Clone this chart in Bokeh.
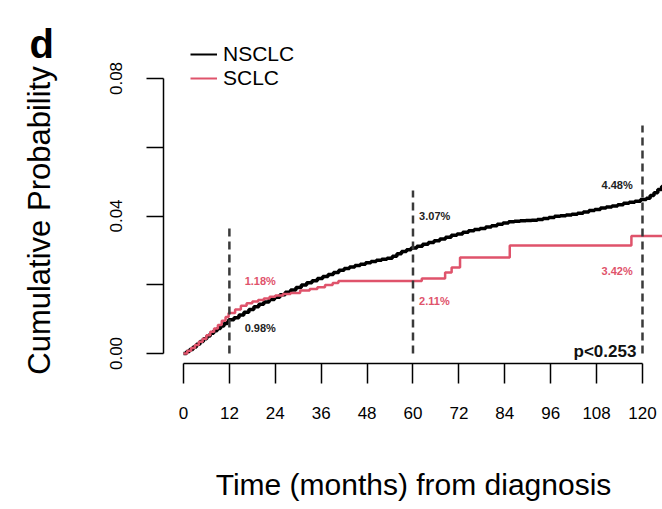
import numpy as np
from bokeh.plotting import figure
from bokeh.models import Range1d, FixedTicker, Legend, LegendItem, Label
from bokeh.core.properties import value
from bokeh.embed import file_html
from bokeh.resources import INLINE

FONT = "Liberation Sans"
NSCLC_COLOR = "#000000"
SCLC_COLOR = "#DF536B"
W, H = 662, 509

# Cumulative incidence, NSCLC (months from diagnosis, probability)
nsclc_months = [0, 0.8, 1.6, 2.5, 3.4, 4.3, 5.2, 6.1, 7.0, 7.9, 8.8, 9.7, 10.6, 11.5, 11.8,
                13.2, 14.5, 15.8, 17.1, 18.4, 19.7, 21.0, 22.4, 23.8, 25.2, 26.6, 28.0,
                29.4, 30.8, 32.2, 33.6, 35.0, 36.4, 37.8, 39.2, 40.6, 42.0, 43.4, 44.8,
                46.2, 47.6, 49.0, 50.4, 51.8, 53.2, 54.6, 55.8, 57.0, 58.3, 59.5, 61.0,
                62.5, 64.0, 65.5, 67.0, 68.5, 70.0, 71.5, 73.0, 74.5, 76.0, 77.5, 79.0,
                80.5, 82.0, 83.5, 85.0, 86.5, 88.0, 89.5, 91.0, 92.5, 94.0, 95.5, 97.0,
                98.5, 100.0, 101.5, 103.0, 104.5, 106.0, 107.5, 109.0, 110.5, 112.0,
                113.5, 115.0, 116.5, 118.0, 119.5, 121.0, 122.0, 123.0, 124.0, 125.0, 126.0]
nsclc_cuminc = [0, 0.0006, 0.0012, 0.0019, 0.0027, 0.0035, 0.0043, 0.0051, 0.0059, 0.0066,
                0.0073, 0.0080, 0.0087, 0.0094, 0.0098,
                0.0104, 0.0112, 0.0120, 0.0128, 0.0136, 0.0143, 0.0150, 0.0157, 0.0164,
                0.0171, 0.0178, 0.0185, 0.0192, 0.0199, 0.0206, 0.0212, 0.0218, 0.0224,
                0.0230, 0.0236, 0.0242, 0.0247, 0.0252, 0.0256, 0.0260, 0.0264, 0.0268,
                0.0271, 0.0274, 0.0277, 0.0283, 0.0290, 0.0297, 0.0302, 0.0307, 0.0312,
                0.0318, 0.0323, 0.0328, 0.0333, 0.0338, 0.0344, 0.0348, 0.0353, 0.0357,
                0.0361, 0.0364, 0.0368, 0.0372, 0.0376, 0.0380, 0.0383, 0.0385, 0.0386,
                0.0387, 0.0388, 0.0390, 0.0393, 0.0396, 0.0399, 0.0401, 0.0403, 0.0405,
                0.0408, 0.0412, 0.0416, 0.0419, 0.0423, 0.0426, 0.0429, 0.0433, 0.0437,
                0.0440, 0.0443, 0.0448, 0.0452, 0.0460, 0.0468, 0.0477, 0.0486, 0.0494]

# Cumulative incidence, SCLC
sclc_months = [0, 1.0, 2.0, 3.0, 4.0, 5.0, 6.0, 7.0, 8.0, 9.0, 10.0, 11.0, 11.8, 13.5,
               15.0, 16.5, 18.0, 19.5, 21.0, 22.5, 24.0, 26.0, 28.0, 30.5, 33.0, 35.0,
               37.0, 39.0, 40.5, 62.3, 68.4, 70.1, 72.3, 85.3, 117.1, 126.0]
sclc_cuminc = [0, 0.0008, 0.0016, 0.0025, 0.0034, 0.0043, 0.0053, 0.0063, 0.0073, 0.0083,
               0.0095, 0.0106, 0.0118, 0.0128, 0.0139, 0.0146, 0.0151, 0.0156, 0.0160,
               0.0165, 0.0169, 0.0173, 0.0176, 0.0183, 0.0188, 0.0193, 0.0199, 0.0205,
               0.0211, 0.0218, 0.0236, 0.0250, 0.0279, 0.0314, 0.0342, 0.0342]

# Landmark times (1, 5 and 10 years) and the reported estimates
landmark_months = [12, 60, 120]
landmark_line_top = [0.0364, 0.0474, 0.0663]
nsclc_landmark = [0.0098, 0.0307, 0.0448]
sclc_landmark = [0.0118, 0.0211, 0.0342]
nsclc_label_x = [16.0, 61.6, 109.3]
nsclc_label_y = [0.0073, 0.0399, 0.0489]
sclc_label_x = [16.0, 61.6, 109.3]
sclc_label_y = [0.0212, 0.0154, 0.0241]
p_value_text = "p<0.253"

x_ticks = list(range(0, 121, 12))
y_ticks = [0, 0.02, 0.04, 0.06, 0.08]
y_tick_labels = {0: "0.00", 0.02: "", 0.04: "0.04", 0.06: "", 0.08: "0.08"}

# The frame fills the canvas; axes sit at fixed data positions (detached, base-R style)
p = figure(width=W, height=H,
           x_range=Range1d(-47.84, 125.23), y_range=Range1d(-0.04538, 0.10269),
           output_backend="svg", toolbar_location=None,
           min_border_left=0, min_border_right=0, min_border_top=0, min_border_bottom=0)
p.outline_line_color = None
p.grid.visible = False
p.background_fill_color = "white"

for ax in (p.xaxis[0], p.yaxis[0]):
    ax.axis_line_width = 1.5
    ax.axis_line_color = "black"
    ax.major_tick_line_width = 1.5
    ax.major_tick_line_color = "black"
    ax.major_tick_in = 0
    ax.minor_tick_in = 0
    ax.minor_tick_out = 0
    ax.major_label_text_font = FONT
    ax.major_label_text_font_size = "17px"
    ax.major_label_text_color = "black"

xa = p.xaxis[0]
xa.fixed_location = -0.0029
xa.bounds = (0, 120)
xa.ticker = FixedTicker(ticks=x_ticks)
xa.major_tick_out = 20
xa.major_label_standoff = 24

ya = p.yaxis[0]
ya.fixed_location = -5.23
ya.bounds = (0, 0.08)
ya.ticker = FixedTicker(ticks=y_ticks)
ya.major_label_overrides = y_tick_labels
ya.major_label_orientation = "vertical"
ya.major_tick_out = 17
ya.major_label_standoff = 24

# Curves
p.step(nsclc_months, nsclc_cuminc, mode="after", line_color=NSCLC_COLOR, line_width=3.5)
p.step(sclc_months, sclc_cuminc, mode="after", line_color=SCLC_COLOR, line_width=2.5)

# Landmark reference lines
p.segment(x0=landmark_months, y0=[0] * len(landmark_months), x1=landmark_months,
          y1=landmark_line_top, line_color="#3a3a3a", line_width=2.5, line_dash="8 5")

# Landmark estimates
p.text(x=nsclc_label_x, y=nsclc_label_y, text=[f"{v * 100:.2f}%" for v in nsclc_landmark],
       text_font=value(FONT), text_font_size="11px", text_font_style="bold",
       text_color="#222222", text_align="left", text_baseline="middle")
p.text(x=sclc_label_x, y=sclc_label_y, text=[f"{v * 100:.2f}%" for v in sclc_landmark],
       text_font=value(FONT), text_font_size="11px", text_font_style="bold",
       text_color=SCLC_COLOR, text_align="left", text_baseline="middle")
p.text(x=[118.4], y=[0.0006], text=[p_value_text], text_font=value(FONT),
       text_font_size="17px", text_font_style="bold", text_color="#111111",
       text_align="right", text_baseline="middle")

# Legend (proxy renderers carry the thinner key lines)
leg_ns = p.line(x=np.array([np.nan]), y=np.array([np.nan]), line_color=NSCLC_COLOR, line_width=2)
leg_sc = p.line(x=np.array([np.nan]), y=np.array([np.nan]), line_color=SCLC_COLOR, line_width=2)
legend = Legend(items=[LegendItem(label="NSCLC", renderers=[leg_ns]),
                       LegendItem(label="SCLC", renderers=[leg_sc])],
                location=(190, H - 90), padding=0, margin=0, spacing=-5,
                glyph_width=27, glyph_height=20, label_height=20, label_standoff=6,
                label_text_font=FONT, label_text_font_size="21px", label_text_color="black",
                border_line_color=None, background_fill_alpha=0)
p.add_layout(legend)

# Axis titles and panel tag
p.add_layout(Label(x=413, y=H - 484, x_units="screen", y_units="screen",
                   text="Time (months) from diagnosis", text_font=FONT, text_font_size="30px",
                   text_align="center", text_baseline="middle", text_color="black"))
p.add_layout(Label(x=39, y=H - 220, x_units="screen", y_units="screen", angle=90,
                   angle_units="deg", text="Cumulative Probability", text_font=FONT,
                   text_font_size="31px", text_align="center", text_baseline="middle",
                   text_color="black"))
p.add_layout(Label(x=29, y=H - 43, x_units="screen", y_units="screen", text="d",
                   text_font=FONT, text_font_size="40px", text_font_style="bold",
                   text_baseline="alphabetic", text_color="black"))

open("out.html", "w").write(file_html(p, INLINE))
